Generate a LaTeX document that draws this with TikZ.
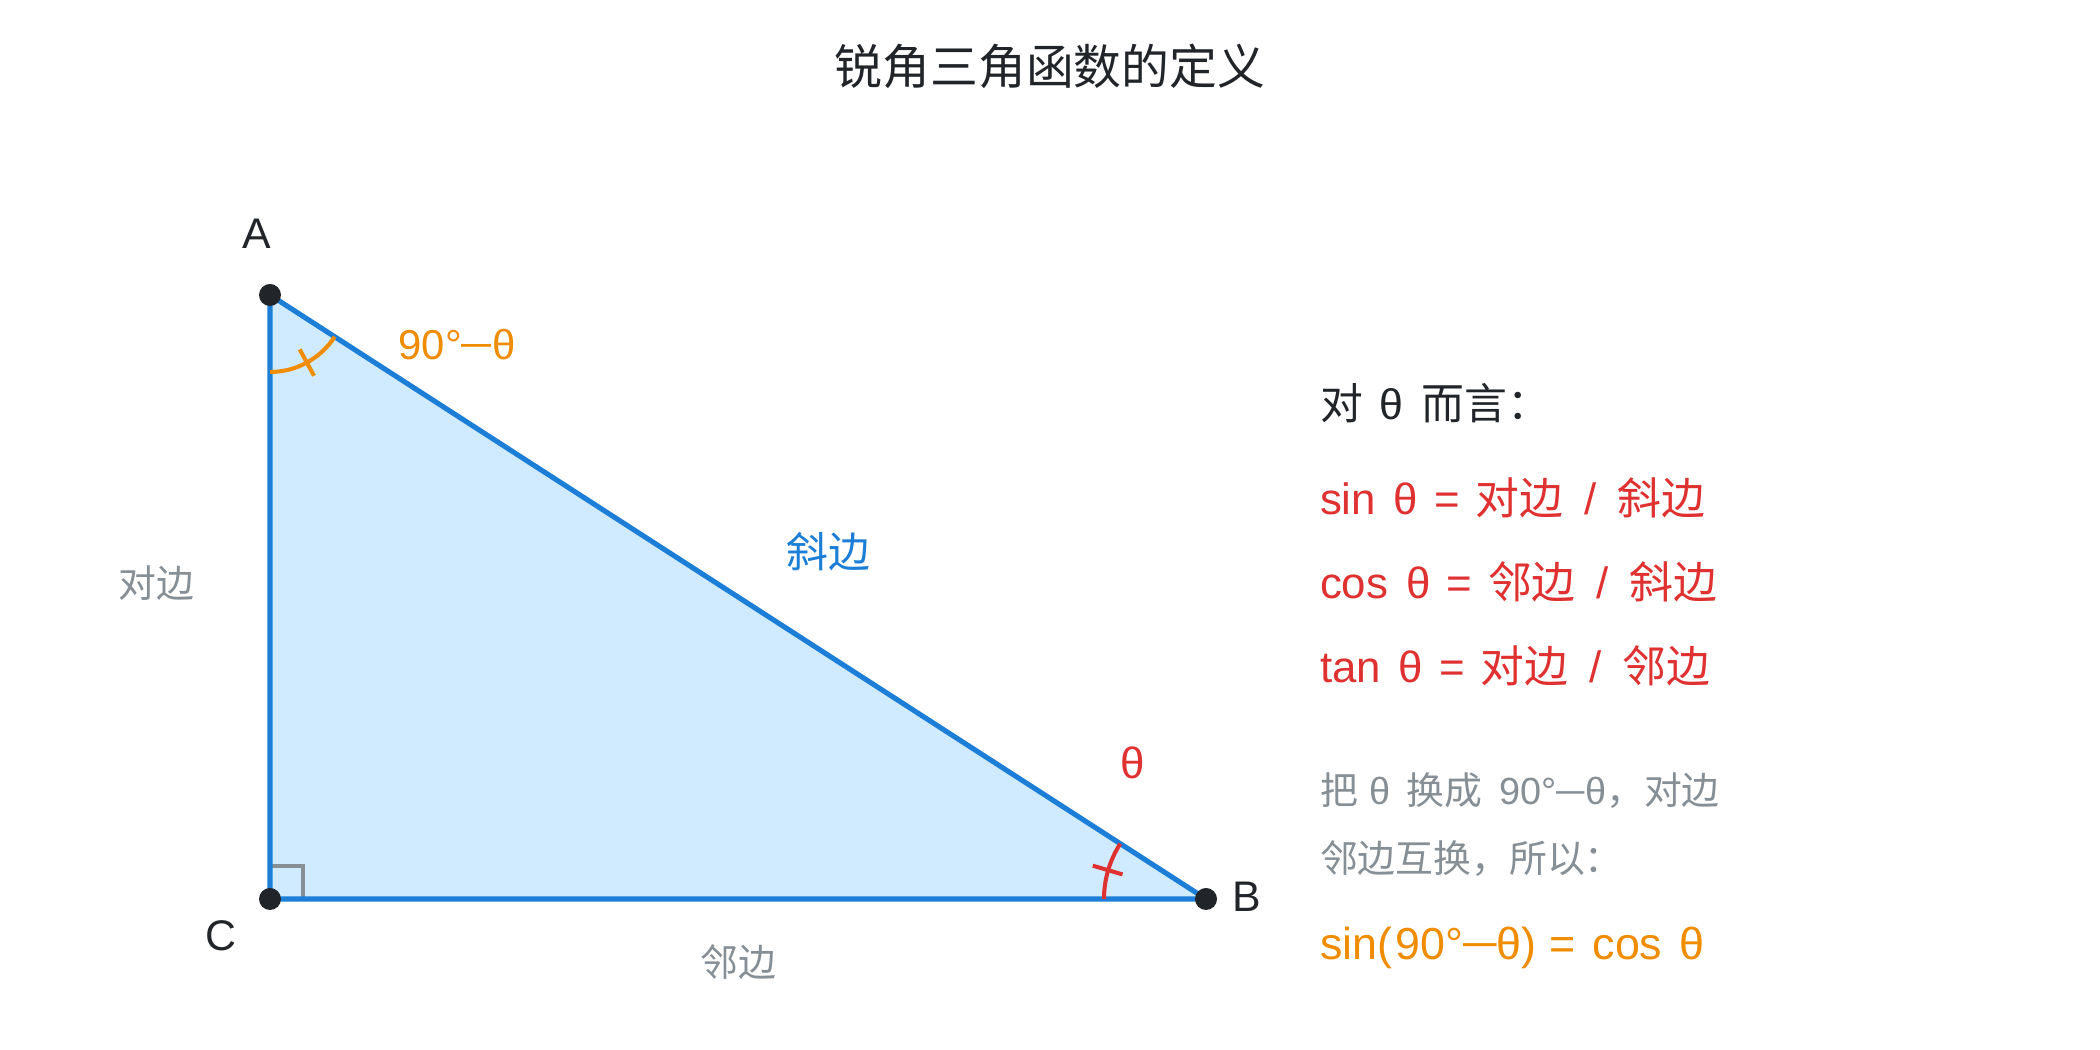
\documentclass[tikz,border=0pt]{standalone}
\usepackage{fontspec}
\setmainfont{Liberation Sans}
\newfontfamily\cjk{Noto Sans CJK SC}
\usetikzlibrary{calc}
\definecolor{cblue}{HTML}{1C7ED6}
\definecolor{cfill}{HTML}{D0EBFF}
\definecolor{cdark}{HTML}{212529}
\definecolor{corange}{HTML}{F08C00}
\definecolor{cred}{HTML}{E03131}
\definecolor{cgray}{HTML}{868E96}
\newcommand\pxf[1]{\fontsize{\fpeval{#1*0.5669}pt}{\fpeval{#1*0.68}pt}\selectfont}
\newcommand\hs[1]{\hspace*{\fpeval{#1*0.02}cm}}
\newcommand\dsh[1]{\raisebox{0.07em}{\scalebox{#1}[1]{—}}}
\begin{document}
\begin{tikzpicture}[x=0.02cm,y=0.02cm,
  lbl/.style={inner sep=0pt,outer sep=0pt},
  dot/.style={circle,fill=cdark,inner sep=0pt,minimum size=0.44cm},
  edge/.style={draw=cblue,line width=2.9pt,line join=round},
  anglemark/.style={line width=2.3pt},
  rline/.style={lbl,anchor=base west}]
\fill[white] (0,0) rectangle (2100,1050);
\useasboundingbox (0,0) rectangle (2100,1050);

% title
\node[lbl,text=cdark] (title) at (1050,984) {\pxf{48}\cjk 锐角三角函数的定义};

% vertices
\coordinate (A) at (270,755);
\coordinate (C) at (270,151);
\coordinate (B) at (1206,151);

% triangle
\fill[cfill] (A) -- (B) -- (C) -- cycle;
\draw[cgray,line width=2.3pt] ($(C)+(0,33)$) -- ($(C)+(33,33)$) -- ($(C)+(33,0)$);
\draw[edge] (A) -- (B) -- (C) -- cycle;

% angle marks
\draw[corange,anglemark] ($(A)+(270:77)$) arc[start angle=270,end angle=327.17,radius=77];
\draw[corange,anglemark] ($(A)+(298.6:62)$) -- ($(A)+(298.6:92)$);
\draw[cred,anglemark] ($(B)+(180:102)$) arc[start angle=180,end angle=147.17,radius=102];
\draw[cred,anglemark] ($(B)+(163.6:87)$) -- ($(B)+(163.6:118)$);

% dots
\node[dot] (dA) at (A) {};
\node[dot] (dB) at (B) {};
\node[dot] (dC) at (C) {};

% vertex labels
\node[lbl,text=cdark] (lA) at (257,816) {\pxf{43}A};
\node[lbl,text=cdark] (lC) at (221,114) {\pxf{43}C};
\node[lbl,text=cdark] (lB) at (1247,153) {\pxf{43}B};

% angle labels
\node[lbl,text=corange] (a90) at (457,705) {\pxf{42}90°\dsh{0.72}θ};
\node[lbl,text=cred] (ath) at (1133,287) {\pxf{44}θ};

% side labels
\node[lbl,text=cblue] (hyp) at (828,498) {\pxf{42}\cjk 斜边};
\node[lbl,text=cgray] (opp) at (156,467) {\pxf{38}\cjk 对边};
\node[lbl,text=cgray] (adj) at (738,88) {\pxf{38}\cjk 邻边};

% right panel
\node[rline,text=cdark] (r1) at (1320,630) {\pxf{43}{\cjk 对}\hs{17}θ\hs{18}{\cjk 而言：}};
\node[rline,text=cred] (r2) at (1320,535) {\pxf{44}sin\hs{18}θ\hs{16}=\hs{16}{\cjk 对边}\hs{21}/\hs{21}{\cjk 斜边}};
\node[rline,text=cred] (r3) at (1320,451) {\pxf{44}cos\hs{18}θ\hs{16}=\hs{16}{\cjk 邻边}\hs{21}/\hs{21}{\cjk 斜边}};
\node[rline,text=cred] (r4) at (1320,367) {\pxf{44}tan\hs{18}θ\hs{16}=\hs{16}{\cjk 对边}\hs{21}/\hs{21}{\cjk 邻边}};
\node[rline,text=cgray] (r5) at (1320,245) {\pxf{38}{\cjk 把}\hs{12}{\pxf{38}θ}\hs{16}{\cjk 换成}\hs{17}{\pxf{38}90°\dsh{0.75}θ}{\cjk ，对边}};
\node[rline,text=cgray] (r6) at (1320,177) {\pxf{38}\cjk 邻边互换，所以：};
\node[rline,text=corange] (r7) at (1320,90) {\pxf{45}sin(\hs{3}90°\dsh{0.75}θ)\hs{13}=\hs{17}cos\hs{17}θ};
\end{tikzpicture}
\end{document}
